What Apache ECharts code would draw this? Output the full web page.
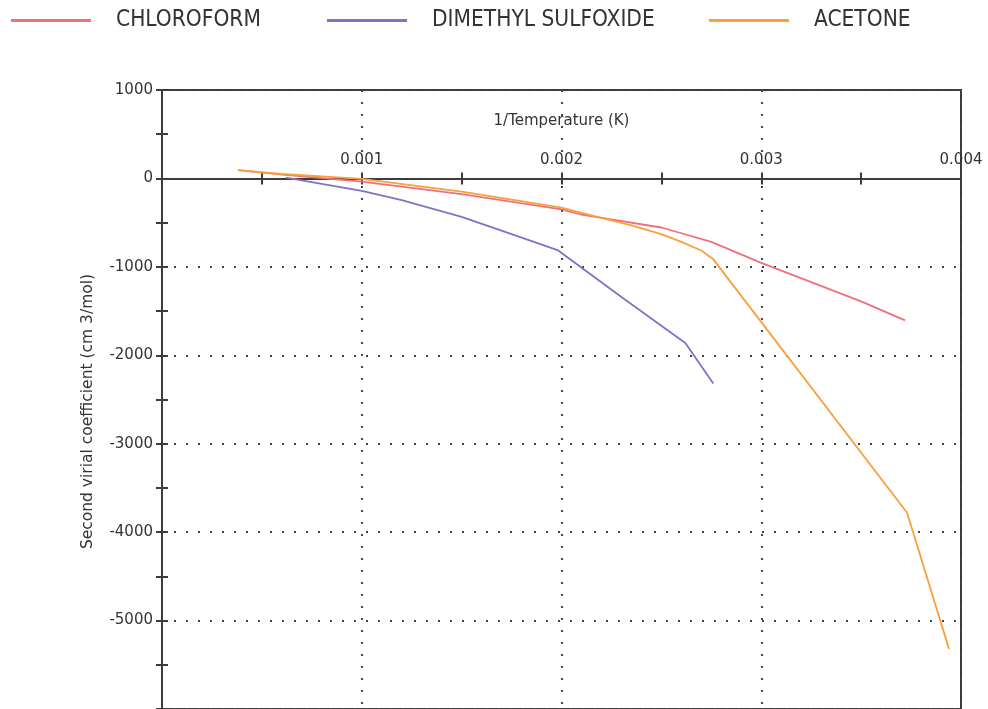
<!DOCTYPE html>
<html>
<head>
<meta charset="utf-8">
<title>Second virial coefficient vs 1/T</title>
<script src="https://cdn.jsdelivr.net/npm/echarts@6/dist/echarts.min.js"></script>
<style>
  html, body { margin: 0; padding: 0; background: #fff; }
  #chart { width: 988px; height: 709px; }
</style>
</head>
<body>
<div id="chart"></div>
<script>
// Series names
const seriesNames = ['CHLOROFORM', 'DIMETHYL SULFOXIDE', 'ACETONE'];

// 1/T (1/K) and second virial coefficient B (cm3/mol) for each solvent
const invT_chloroform = [0.00038, 0.0006, 0.001, 0.0015, 0.002, 0.0021, 0.0025, 0.0026, 0.00275, 0.003, 0.0035, 0.00372];
const B_chloroform    = [94, 42, -35, -178, -350, -410, -555, -620, -718, -955, -1390, -1605];

const invT_dmso = [0.00062, 0.001, 0.0012, 0.0015, 0.0017, 0.00198, 0.0023, 0.00262, 0.00276];
const B_dmso    = [10, -140, -245, -435, -590, -810, -1340, -1860, -2320];

const invT_acetone = [0.00038, 0.0006, 0.001, 0.0015, 0.002, 0.0021, 0.00235, 0.0025, 0.0026, 0.0027, 0.00276, 0.00373, 0.00394];
const B_acetone    = [94, 50, -5, -150, -330, -390, -530, -630, -718, -815, -915, -3780, -5320];

// Axis ranges and labelled tick values
const xMin = 0, xMax = 0.004, xStep = 0.001;
const yMin = -6000, yMax = 1000, yStep = 1000;
const xTicks = [0.001, 0.002, 0.003, 0.004];
const yTicks = [1000, 0, -1000, -2000, -3000, -4000, -5000];

const colors = ['#f0707a', '#7d74c6', '#f7a03c'];
const axisColor = '#3c3c3c';
const labelColor = '#333';
const font = 'DejaVu Sans';

// plot box
const gridTop = 90, gridHeight = 619;
// the x axis sits on B = 0; shift it down from the top edge of the plot box
const xAxisShift = -gridHeight * (yMax - 0) / (yMax - yMin);

const pairs = (xs, ys) => xs.map((x, i) => [x, ys[i]]);

const xBase = {
  type: 'value', min: xMin, max: xMax, interval: xStep,
  position: 'top', offset: xAxisShift,
  axisLine: { onZero: false, lineStyle: { color: axisColor, width: 2 } },
  minorTick: { show: true, splitNumber: 2, length: 6, lineStyle: { color: axisColor, width: 2 } },
  axisTick: { length: 6, lineStyle: { color: axisColor, width: 2 } },
};
const yBase = {
  type: 'value', min: yMin, max: yMax, interval: yStep,
  position: 'left',
  axisLine: { show: true, onZero: false, lineStyle: { color: axisColor, width: 2 } },
  minorTick: { show: true, splitNumber: 2, length: 6, lineStyle: { color: axisColor, width: 2 } },
  axisTick: { length: 6, lineStyle: { color: axisColor, width: 2 } },
};

const legendAt = (name, left) => ({
  data: [name], left: left, top: 4,
  icon: 'rect', itemWidth: 80, itemHeight: 3,
  textStyle: { fontFamily: 'DejaVu Sans Condensed', fontSize: 22.5, color: labelColor, padding: [0, 0, 0, 20] },
  selectedMode: false
});

const chart = echarts.init(document.getElementById('chart'), null, { renderer: 'canvas' });
chart.setOption({
  animation: false,
  backgroundColor: '#fff',
  legend: [
    legendAt(seriesNames[0], 6),
    legendAt(seriesNames[1], 322),
    legendAt(seriesNames[2], 704)
  ],
  grid: {
    left: 162, right: 27, top: gridTop, height: gridHeight,
    show: true, borderColor: axisColor, borderWidth: 2, backgroundColor: 'transparent'
  },
  xAxis: [
    Object.assign({}, xBase, {
      name: '1/Temperature (K)', nameLocation: 'middle', nameGap: 50,
      nameTextStyle: { fontFamily: font, fontSize: 15, color: labelColor },
      axisLabel: {
        margin: 11, fontFamily: font, fontSize: 15, color: labelColor,
        showMinLabel: false, showMaxLabel: true,
        formatter: v => (xTicks.some(t => Math.abs(t - v) < 1e-9) ? String(+v.toFixed(3)) : '')
      },
      splitLine: { show: true, lineStyle: { color: '#444', width: 2, type: [2, 10] } }
    }),
    Object.assign({}, xBase, {
      axisTick: Object.assign({}, xBase.axisTick, { inside: true }),
      minorTick: Object.assign({}, xBase.minorTick),
      axisLabel: { show: false },
      splitLine: { show: false }
    })
  ],
  yAxis: [
    Object.assign({}, yBase, {
      name: 'Second virial coefficient (cm 3/mol)', nameLocation: 'middle', nameGap: 66,
      nameTextStyle: { fontFamily: font, fontSize: 15.5, color: labelColor, padding: [0, 24, 0, 0] },
      axisLabel: {
        margin: 9, fontFamily: font, fontSize: 15, color: labelColor,
        showMinLabel: false,
        formatter: v => (yTicks.indexOf(v) >= 0 ? String(v) : '')
      },
      splitLine: { show: true, lineStyle: { color: '#444', width: 2, type: [2, 10] } }
    }),
    Object.assign({}, yBase, {
      axisTick: Object.assign({}, yBase.axisTick, { inside: true }),
      axisLabel: { show: false },
      splitLine: { show: false }
    })
  ],
  series: [
    { name: seriesNames[0], type: 'line', data: pairs(invT_chloroform, B_chloroform) },
    { name: seriesNames[1], type: 'line', data: pairs(invT_dmso, B_dmso) },
    { name: seriesNames[2], type: 'line', data: pairs(invT_acetone, B_acetone) }
  ].map((s, i) => Object.assign(s, {
    xAxisIndex: 0, yAxisIndex: 0,
    symbol: 'none', showSymbol: false, smooth: false,
    color: colors[i],
    lineStyle: { color: colors[i], width: 1.8 }
  }))
});
</script>
</body>
</html>
